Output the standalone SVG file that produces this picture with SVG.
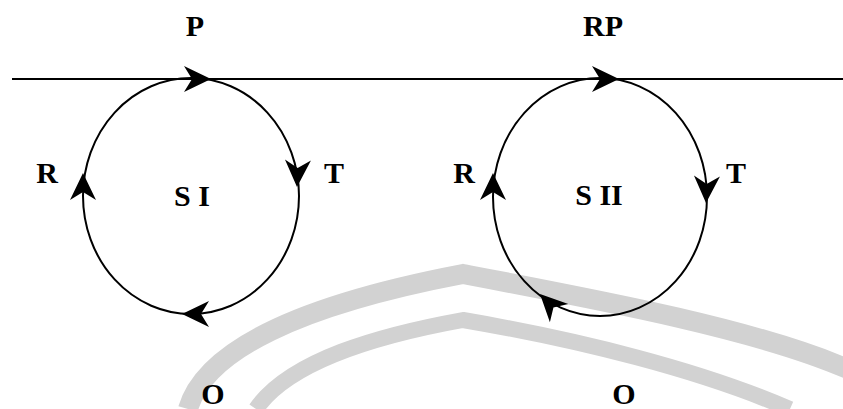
<svg xmlns="http://www.w3.org/2000/svg" width="843" height="409" viewBox="0 0 843 409">
<style>
.lbl{font-family:"Liberation Serif","Times New Roman",serif;font-weight:bold;font-size:30px;fill:#000;text-anchor:middle}
.loop{fill:none;stroke:#000;stroke-width:2}
.wm{fill:none;stroke:#d2d2d2;stroke-linecap:butt}
</style>
<defs>
<path id="ah" d="M0,0 L-27,-13 L-19,0 L-27,13 Z" fill="#000"/>
</defs>
<rect width="843" height="409" fill="#fff"/>
<g id="watermark">
<path class="wm" stroke-width="20" d="M188,409 C205,350 300,305 463,274 C600,300 760,330 850,370"/>
<path class="wm" stroke-width="16" d="M256,409 C290,360 380,335 463,320 C580,340 700,370 790,409"/>
</g>
<g id="connectors">
<line x1="12" y1="79" x2="843" y2="79" stroke="#000" stroke-width="2"/>
</g>
<g id="node-s1">
<ellipse class="loop" cx="191" cy="196" rx="108" ry="118"/>
<use href="#ah" transform="translate(211,79)"/>
<use href="#ah" transform="translate(297,187) rotate(92)"/>
<use href="#ah" transform="translate(83,173) rotate(-90)"/>
<use href="#ah" transform="translate(182,314) rotate(180)"/>
<text class="lbl" x="192" y="206">S I</text>
</g>
<g id="node-s2">
<ellipse class="loop" cx="600" cy="197" rx="107" ry="119"/>
<use href="#ah" transform="translate(619,79)"/>
<use href="#ah" transform="translate(706,203) rotate(92)"/>
<use href="#ah" transform="translate(493,173) rotate(-90)"/>
<use href="#ah" transform="translate(540,294) rotate(-135)"/>
<text class="lbl" x="599" y="205">S II</text>
</g>
<g id="labels">
<text class="lbl" x="195" y="36">P</text>
<text class="lbl" x="603" y="36">RP</text>
<text class="lbl" x="47" y="183">R</text>
<text class="lbl" x="334" y="183">T</text>
<text class="lbl" x="464" y="183">R</text>
<text class="lbl" x="736" y="183">T</text>
<text class="lbl" x="213" y="404">O</text>
<text class="lbl" x="624" y="404">O</text>
</g>
</svg>
